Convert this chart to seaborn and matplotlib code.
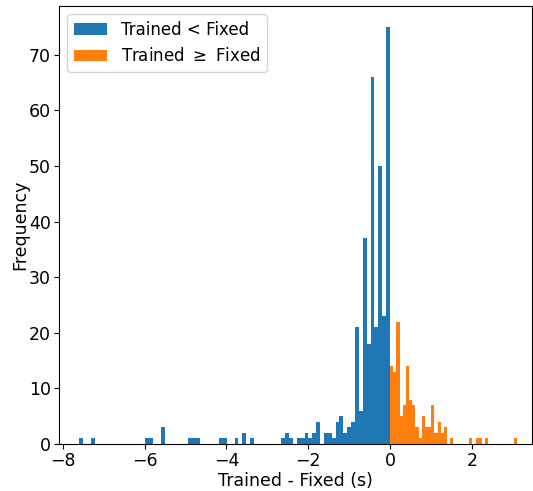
import numpy as np
import pandas as pd
import matplotlib
matplotlib.use("Agg")
import matplotlib.pyplot as plt
from matplotlib.patches import Patch
import seaborn as sns

# Histogram counts
blue_counts = [1, 0, 0, 1, 0, 0, 0, 0, 0, 0,
               0, 0, 0, 0, 0, 0, 0, 1, 1, 0,
               0, 3, 0, 0, 0, 0, 0, 0, 1, 1,
               1, 0, 0, 0, 0, 0, 1, 1, 0, 0,
               1, 0, 2, 0, 1, 0, 0, 0, 0, 0,
               0, 0, 1, 2, 1, 0, 1, 1, 2, 1,
               2, 4, 0, 2, 2, 1, 4, 5, 2, 3,
               4, 21, 6, 37, 18, 66, 21, 50, 23, 75]
orange_counts = [14, 13, 22, 5, 7, 14, 8, 7, 3, 1,
                 5, 3, 3, 7, 2, 4, 2, 3, 0, 1,
                 0, 0, 0, 0, 0, 1, 0, 1, 1, 0,
                 1, 0, 0, 0, 0, 0, 0, 0, 0, 1]
blue_range = (-7.6, 0.0)
orange_range = (0.0, 3.1)
labels = ["Trained < Fixed", r"Trained $\geq$ Fixed"]
colors = ["#1f77b4", "#ff7f0e"]

blue_edges = np.linspace(blue_range[0], blue_range[1], len(blue_counts) + 1)
orange_edges = np.linspace(orange_range[0], orange_range[1], len(orange_counts) + 1)

df_b = pd.DataFrame({"x": (blue_edges[:-1] + blue_edges[1:]) / 2, "w": blue_counts})
df_o = pd.DataFrame({"x": (orange_edges[:-1] + orange_edges[1:]) / 2, "w": orange_counts})

fig = plt.figure(figsize=(5.33, 4.91), dpi=100)
ax = fig.add_axes([59 / 533, 47 / 491, (532 - 59) / 533, (444 - 6) / 491])

sns.histplot(data=df_b, x="x", weights="w", bins=len(blue_counts), binrange=blue_range,
             color=colors[0], alpha=1, linewidth=0, ax=ax)
sns.histplot(data=df_o, x="x", weights="w", bins=len(orange_counts), binrange=orange_range,
             color=colors[1], alpha=1, linewidth=0, ax=ax)

ax.set_xlim(-8.09, 3.47)
ax.set_ylim(0, 78.75)
ax.set_xticks([-8, -6, -4, -2, 0, 2])
ax.set_yticks(range(0, 80, 10))
ax.tick_params(labelsize=12.5, pad=2.5)
ax.set_xlabel("Trained - Fixed (s)", fontsize=12.5, labelpad=1)
ax.set_ylabel("Frequency", fontsize=12.5, labelpad=-0.5)

handles = [Patch(facecolor=colors[0]), Patch(facecolor=colors[1])]
ax.legend(handles, labels, loc="upper left", fontsize=12)

fig.savefig("out.png", dpi=100)
